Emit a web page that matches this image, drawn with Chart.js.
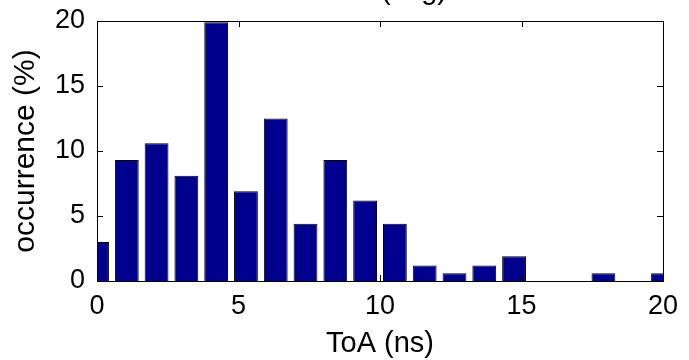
<!DOCTYPE html>
<html>
<head>
<meta charset="utf-8">
<script src="https://cdn.jsdelivr.net/npm/chart.js@4"></script>
<style>
  html, body { margin: 0; padding: 0; background: #fff; }
  #wrap { width: 689px; height: 360px; position: relative; }
</style>
</head>
<body>
<div id="wrap"><canvas id="histChart"></canvas></div>
<script>
// histogram bin centres (ns) and occurrence (%)
const binCenters = [0, 1.053, 2.105, 3.158, 4.211, 5.263, 6.316, 7.368, 8.421, 9.474,
  10.526, 11.579, 12.632, 13.684, 14.737, 15.789, 16.842, 17.895, 18.947, 20];
const occurrence = [3.0, 9.3, 10.6, 8.1, 19.9, 6.9, 12.5, 4.4, 9.3, 6.2,
  4.4, 1.2, 0.6, 1.2, 1.9, 0, 0, 0.6, 0, 0.6];
const xTicks = [0, 5, 10, 15, 20];
const yTicks = [0, 5, 10, 15, 20];

const fontFamily = '"Liberation Sans", Arial, sans-serif';

// MATLAB-like box with inward ticks, plus the clipped title at the top
const boxPlugin = {
  id: "box",
  afterDatasetsDraw(chart) {
    const { ctx, chartArea: a, scales } = chart;
    ctx.save();
    ctx.strokeStyle = "#000";
    ctx.lineWidth = 1;
    ctx.beginPath();
    scales.x.ticks.forEach((t) => {
      const px = Math.round(scales.x.getPixelForValue(t.value)) + 0.5;
      ctx.moveTo(px, a.bottom);
      ctx.lineTo(px, a.bottom - 6);
      ctx.moveTo(px, a.top);
      ctx.lineTo(px, a.top + 6);
    });
    scales.y.ticks.forEach((t) => {
      const py = Math.round(scales.y.getPixelForValue(t.value)) + 0.5;
      ctx.moveTo(a.left, py);
      ctx.lineTo(a.left + 6, py);
      ctx.moveTo(a.right, py);
      ctx.lineTo(a.right - 6, py);
    });
    ctx.stroke();
    ctx.strokeRect(Math.round(a.left) + 0.5, Math.round(a.top) + 0.5,
      Math.round(a.width), Math.round(a.height));

    ctx.fillStyle = "#000";
    ctx.font = "29px " + fontFamily;
    ctx.textAlign = "right";
    ctx.textBaseline = "alphabetic";
    ctx.fillText("ToA (avg)", 447, -1);
    ctx.restore();
  },
};

const chart = new Chart(document.getElementById("histChart"), {
  type: "bar",
  data: {
    datasets: [
      {
        data: binCenters.map((c, i) => ({ x: c, y: occurrence[i] })),
        backgroundColor: "#00008F",
        borderColor: "#000",
        borderWidth: 1,
        categoryPercentage: 1,
        barPercentage: 0.8,
        clip: 0,
      },
    ],
  },
  options: {
    responsive: true,
    maintainAspectRatio: false,
    animation: false,
    layout: { padding: { left: 0, top: 21, right: 26, bottom: 0 } },
    plugins: {
      legend: { display: false },
      tooltip: { enabled: false },
    },
    scales: {
      x: {
        type: "linear",
        min: 0,
        max: 20,
        offset: false,
        grid: { display: false, offset: false, drawTicks: false },
        border: { display: false },
        afterBuildTicks: (s) => { s.ticks = xTicks.map((v) => ({ value: v })); },
        afterFit: (s) => {
          s.height = 79;
          s.paddingLeft = 0;
          s.paddingRight = 0;
        },
        ticks: {
          padding: 9,
          color: "#000",
          maxRotation: 0,
          font: { family: fontFamily, size: 27 },
        },
        title: {
          display: true,
          text: "ToA (ns)",
          color: "#000",
          padding: { top: 0, bottom: 1.5 },
          font: { family: fontFamily, size: 29, lineHeight: 1 },
        },
      },
      y: {
        min: 0,
        max: 20,
        grid: { display: false, drawTicks: false },
        border: { display: false },
        afterBuildTicks: (s) => { s.ticks = yTicks.map((v) => ({ value: v })); },
        afterFit: (s) => {
          s.width = 97;
          s.paddingTop = 0;
          s.paddingBottom = 0;
        },
        ticks: {
          padding: 12,
          color: "#000",
          font: { family: fontFamily, size: 27 },
        },
        title: {
          display: true,
          text: "occurrence (%)",
          color: "#000",
          padding: { top: 11, bottom: 0 },
          font: { family: fontFamily, size: 30, lineHeight: 1 },
        },
      },
    },
  },
  plugins: [boxPlugin],
});
</script>
</body>
</html>
